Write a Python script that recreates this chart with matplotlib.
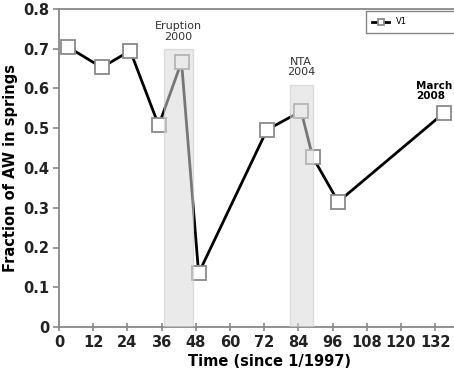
import matplotlib.pyplot as plt
from matplotlib.patches import Rectangle

# months since Jan 1997 and fraction of AW found in the springs
months = [3, 15, 25, 35, 43, 49, 73, 85, 89, 98, 135]
fraction = [0.705, 0.653, 0.695, 0.507, 0.667, 0.135, 0.496, 0.543, 0.428, 0.315, 0.538]

# shaded events: (start month, end month, top of box, label)
events = [(37, 47, 0.70, "Eruption\n2000"), (81, 89, 0.61, "NTA\n2004")]

xticks = [0, 12, 24, 36, 48, 60, 72, 84, 96, 108, 120, 132]
yticks = [0, 0.1, 0.2, 0.3, 0.4, 0.5, 0.6, 0.7, 0.8]
ytick_labels = ["0", "0.1", "0.2", "0.3", "0.4", "0.5", "0.6", "0.7", "0.8"]

fig = plt.figure(figsize=(4.54, 3.77), dpi=100)
# plot area runs off the right edge of the figure
ax = fig.add_axes([59 / 454, 50 / 377, 420 / 454, 318 / 377])

ax.plot(months, fraction, color="black", lw=2, marker="s", ms=9.5,
        mfc="white", mec="#8a8a8a", mew=1.3, label="V1", zorder=2)

for start, end, top, text in events:
    ax.add_patch(Rectangle((start, 0), end - start, top, facecolor="#d9d9d9",
                           edgecolor="#c8c8c8", alpha=0.55, lw=1, zorder=3))
    ax.text((start + end) / 2, top + 0.018, text, ha="center", va="bottom",
            fontsize=8, color="#333333", linespacing=1.1)

ax.text(125.3, 0.568, "March\n2008", ha="left", va="bottom", fontsize=7.5,
        fontweight="bold", linespacing=1.05)

ax.set_xlim(0, 147.4)
ax.set_ylim(0, 0.8)
ax.set_xticks(xticks)
ax.set_yticks(yticks)
ax.set_yticklabels(ytick_labels)
for lab in ax.get_xticklabels() + ax.get_yticklabels():
    lab.set_fontweight("bold")
    lab.set_fontsize(10.5)
    lab.set_color("#222222")

ax.tick_params(axis="x", direction="inout", length=6, color="#888888", width=1.2, pad=3)
ax.tick_params(axis="y", direction="out", length=4, color="#888888", width=1.2, pad=3)
for side in ["left", "bottom", "top"]:
    ax.spines[side].set_color("#888888")
    ax.spines[side].set_linewidth(1.3)
ax.spines["right"].set_visible(False)

ax.set_xlabel("Time (since 1/1997)", fontsize=10.5, fontweight="bold", labelpad=3)
ax.set_ylabel("Fraction of AW in springs", fontsize=10.5, fontweight="bold", labelpad=4)

leg = ax.legend(loc="upper left", bbox_to_anchor=(306 / 420, 0.997, 0.3, 0),
                mode="expand", fontsize=6, markerscale=0.45, handlelength=2.0,
                frameon=True, fancybox=False, borderpad=0.8, borderaxespad=0.1)
leg.get_frame().set_edgecolor("#666666")
leg.get_frame().set_linewidth(1.0)

fig.savefig("out.png", dpi=100)
